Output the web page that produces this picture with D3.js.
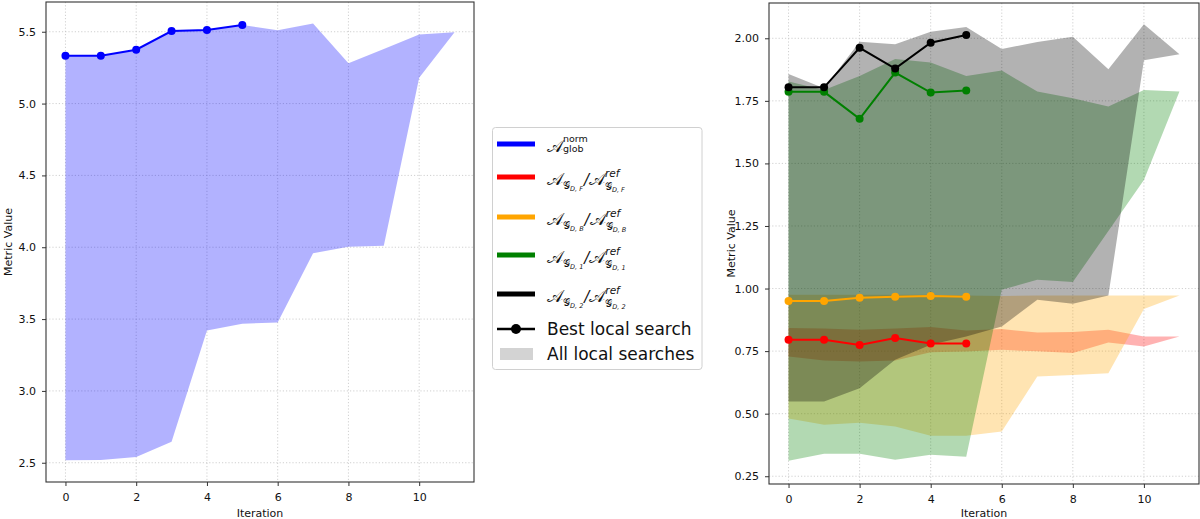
<!DOCTYPE html>
<html>
<head>
<meta charset="utf-8">
<script src="https://cdn.jsdelivr.net/npm/d3@7"></script>
<style>
  html, body { margin: 0; padding: 0; background: #fff; }
  svg { display: block; font-family: "DejaVu Sans", sans-serif; }
</style>
</head>
<body>
<svg id="chart" width="1200" height="519"></svg>
<script>
// ---------------- DATA ----------------
const iterations = [0, 1, 2, 3, 4, 5, 6, 7, 8, 9, 10, 11];
const bestIterations = [0, 1, 2, 3, 4, 5];

// Left panel: A_glob^norm
const globBest  = [5.333, 5.333, 5.375, 5.505, 5.512, 5.547];
const globUpper = [5.333, 5.333, 5.375, 5.505, 5.512, 5.547, 5.510, 5.558, 5.280, 5.380, 5.480, 5.496];
const globLower = [2.517, 2.520, 2.540, 2.646, 3.420, 3.467, 3.477, 3.958, 4.004, 4.010, 5.180, 5.496];

// Right panel: ratios
const fBest  = [0.795, 0.795, 0.774, 0.802, 0.780, 0.780];
const fUpper = [0.842, 0.840, 0.835, 0.840, 0.846, 0.832, 0.838, 0.824, 0.826, 0.835, 0.808, 0.808];
const fLower = [0.728, 0.712, 0.708, 0.712, 0.745, 0.748, 0.755, 0.749, 0.742, 0.784, 0.768, 0.808];

const bBest  = [0.950, 0.950, 0.963, 0.967, 0.970, 0.967];
const bUpper = [0.975, 0.975, 0.975, 0.975, 0.975, 0.972, 0.970, 0.972, 0.972, 0.972, 0.972, 0.972];
const bLower = [0.481, 0.456, 0.464, 0.449, 0.412, 0.412, 0.429, 0.649, 0.655, 0.662, 0.918, 0.972];

const oneBest  = [1.786, 1.786, 1.678, 1.863, 1.783, 1.791];
const oneUpper = [1.827, 1.793, 1.849, 1.917, 1.903, 1.849, 1.871, 1.787, 1.760, 1.727, 1.793, 1.787];
const oneLower = [0.312, 0.340, 0.340, 0.316, 0.336, 0.328, 0.995, 1.035, 1.026, 1.230, 1.434, 1.787];

const twoBest  = [1.804, 1.804, 1.962, 1.879, 1.982, 2.013];
const twoUpper = [1.857, 1.800, 1.986, 1.976, 2.026, 2.045, 1.957, 1.985, 2.006, 1.876, 2.056, 1.936];
const twoLower = [0.549, 0.549, 0.602, 0.715, 0.775, 0.808, 0.848, 0.955, 0.939, 0.972, 1.912, 1.936];

const xTicks = [0, 2, 4, 6, 8, 10];
const leftYTicks = [2.5, 3.0, 3.5, 4.0, 4.5, 5.0, 5.5];
const rightYTicks = [0.25, 0.50, 0.75, 1.00, 1.25, 1.50, 1.75, 2.00];

const seriesColors = { glob: "#0000ff", F: "#ff0000", B: "#ffa500", one: "#008000", two: "#000000" };

// ---------------- DRAW ----------------
const svg = d3.select("#chart");

function panel(box, xDomain, yDomain, yTicks, yFmt) {
  const g = svg.append("g");
  const x = d3.scaleLinear().domain(xDomain).range([box.left, box.right]);
  const y = d3.scaleLinear().domain(yDomain).range([box.bottom, box.top]);

  const grid = g.append("g").attr("stroke", "#c4c4c4").attr("stroke-width", 0.8)
    .attr("stroke-dasharray", "1.2,2");
  xTicks.forEach(t => grid.append("line").attr("x1", x(t)).attr("x2", x(t))
    .attr("y1", box.top).attr("y2", box.bottom));
  yTicks.forEach(t => grid.append("line").attr("y1", y(t)).attr("y2", y(t))
    .attr("x1", box.left).attr("x2", box.right));

  const content = g.append("g");

  const xAxis = g.append("g").attr("transform", `translate(0,${box.bottom})`)
    .call(d3.axisBottom(x).tickValues(xTicks).tickSize(4).tickPadding(7).tickFormat(d3.format("d")));
  const yAxis = g.append("g").attr("transform", `translate(${box.left},0)`)
    .call(d3.axisLeft(y).tickValues(yTicks).tickSize(4).tickPadding(6).tickFormat(yFmt));
  [xAxis, yAxis].forEach(a => {
    a.select(".domain").remove();
    a.selectAll("line").attr("stroke", "#333").attr("stroke-width", 1);
    a.selectAll("text").attr("font-size", 11).attr("font-family", "DejaVu Sans").attr("fill", "#111");
  });
  g.append("rect").attr("x", box.left).attr("y", box.top)
    .attr("width", box.right - box.left).attr("height", box.bottom - box.top)
    .attr("fill", "none").attr("stroke", "#333").attr("stroke-width", 1.1);

  g.append("text").attr("x", (box.left + box.right) / 2).attr("y", 517)
    .attr("text-anchor", "middle").attr("font-size", 11).attr("fill", "#111").text("Iteration");
  g.append("text").attr("transform", `translate(${box.left - 34},${(box.top + box.bottom) / 2}) rotate(-90)`)
    .attr("text-anchor", "middle").attr("font-size", 11).attr("fill", "#111").text("Metric Value");

  return { x, y, content };
}

function band(p, lower, upper, color) {
  const area = d3.area().x((d, i) => p.x(iterations[i])).y0((d, i) => p.y(lower[i])).y1(d => p.y(d));
  p.content.append("path").datum(upper).attr("d", area)
    .attr("fill", color).attr("fill-opacity", 0.3).attr("stroke", "none");
}
function bestLine(p, vals, color) {
  const line = d3.line().x((d, i) => p.x(bestIterations[i])).y(d => p.y(d));
  p.content.append("path").datum(vals).attr("d", line)
    .attr("fill", "none").attr("stroke", color).attr("stroke-width", 2);
  p.content.selectAll(null).data(vals).enter().append("circle")
    .attr("cx", (d, i) => p.x(bestIterations[i])).attr("cy", d => p.y(d)).attr("r", 4)
    .attr("fill", color);
}

const L = panel({ left: 46, right: 474, top: 2, bottom: 482 }, [-0.55, 11.55], [2.366, 5.707],
  leftYTicks, d3.format(".1f"));
band(L, globLower, globUpper, seriesColors.glob);
bestLine(L, globBest, seriesColors.glob);

const R = panel({ left: 769, right: 1199, top: 3, bottom: 484 }, [-0.55, 11.55], [0.219, 2.141],
  rightYTicks, d3.format(".2f"));
band(R, fLower, fUpper, seriesColors.F);
band(R, bLower, bUpper, seriesColors.B);
band(R, oneLower, oneUpper, seriesColors.one);
band(R, twoLower, twoUpper, seriesColors.two);
bestLine(R, fBest, seriesColors.F);
bestLine(R, bBest, seriesColors.B);
bestLine(R, oneBest, seriesColors.one);
bestLine(R, twoBest, seriesColors.two);

// ---------------- LEGEND ----------------
const lg = svg.append("g");
lg.append("rect").attr("x", 492.5).attr("y", 127.5).attr("width", 209.5).attr("height", 242)
  .attr("rx", 3).attr("fill", "#fff").attr("fill-opacity", 0.8).attr("stroke", "#d0d0d0").attr("stroke-width", 1);

const CAL = "'DejaVu Serif', 'DejaVu Sans', serif";
function mathLabel(x, y, parts) {
  let cx = x, mark = x;
  parts.forEach(p => {
    const sx = p.atMark ? mark : cx;
    if (p.setMark) mark = sx;
    const t = lg.append("text").attr("x", sx).attr("y", y + (p.dy || 0))
      .attr("font-size", p.size).attr("font-family", p.font || "DejaVu Sans")
      .attr("font-style", p.italic ? "italic" : "normal").attr("fill", "#111").text(p.t);
    cx = sx + t.node().getComputedTextLength() + (p.pad || 0);
  });
}
function ratioParts(sub) {
  return [
    { t: "𝒜", size: 17, font: CAL },
    { t: "𝒢", size: 10, font: CAL, dy: 4 },
    { t: sub, size: 6.5, italic: true, dy: 6, pad: 1 },
    { t: "/", size: 15, italic: true, pad: 0 },
    { t: "𝒜", size: 17, font: CAL },
    { t: "ref", size: 10.5, italic: true, dy: -8, setMark: true },
    { t: "𝒢", size: 10, font: CAL, dy: 5, atMark: true },
    { t: sub, size: 6.5, italic: true, dy: 7 }
  ];
}
const legendRows = [
  { y: 144, color: seriesColors.glob, parts: [
      { t: "𝒜", size: 17, font: CAL },
      { t: "norm", size: 9.5, dy: -10, setMark: true },
      { t: "glob", size: 9.5, dy: 0, atMark: true }] },
  { y: 177, color: seriesColors.F, parts: ratioParts("D, F") },
  { y: 217, color: seriesColors.B, parts: ratioParts("D, B") },
  { y: 255, color: seriesColors.one, parts: ratioParts("D, 1") },
  { y: 294, color: seriesColors.two, parts: ratioParts("D, 2") }
];
legendRows.forEach(r => {
  lg.append("line").attr("x1", 497).attr("x2", 535).attr("y1", r.y).attr("y2", r.y)
    .attr("stroke", r.color).attr("stroke-width", 5);
  mathLabel(547, r.y + 8, r.parts);
});
lg.append("line").attr("x1", 497).attr("x2", 535).attr("y1", 329).attr("y2", 329)
  .attr("stroke", "#000").attr("stroke-width", 2.5);
lg.append("circle").attr("cx", 516).attr("cy", 329).attr("r", 5).attr("fill", "#000");
lg.append("text").attr("x", 547).attr("y", 335).attr("font-size", 17).attr("fill", "#111").text("Best local search");
lg.append("rect").attr("x", 500).attr("y", 348).attr("width", 33).attr("height", 12).attr("fill", "#d3d3d3");
lg.append("text").attr("x", 547).attr("y", 360).attr("font-size", 17).attr("fill", "#111").text("All local searches");
</script>
</body>
</html>
